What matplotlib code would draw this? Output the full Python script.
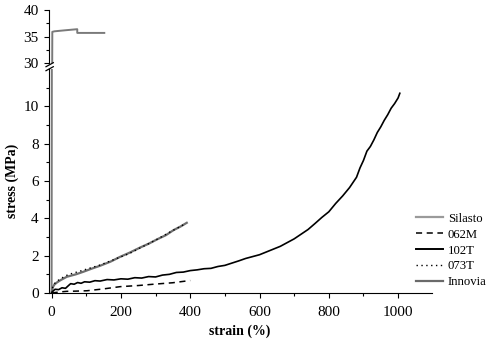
import matplotlib
matplotlib.use("Agg")
import matplotlib.pyplot as plt
from matplotlib.lines import Line2D

plt.rcParams['font.family'] = ['Liberation Serif', 'DejaVu Serif']

# strain (%) / stress (MPa)
silasto_x = [0, 3, 8, 15, 25, 44, 70, 92, 115, 140, 170, 198, 225, 256, 280, 304, 330, 352, 372, 390]
silasto_y = [0, 0.3, 0.45, 0.56, 0.68, 0.87, 1.0, 1.14, 1.3, 1.46, 1.68, 1.94, 2.16, 2.44, 2.64, 2.87, 3.1, 3.37, 3.56, 3.76]

m062_x = [0, 20, 44, 70, 102, 150, 198, 250, 294, 350, 400]
m062_y = [0, 0.05, 0.09, 0.1, 0.12, 0.22, 0.34, 0.4, 0.47, 0.55, 0.67]

t102_x = [0, 5, 10, 20, 30, 40, 50, 55, 65, 75, 85, 95, 110, 125, 140, 160, 180, 200,
          220, 240, 260, 280, 300, 320, 340, 360, 380, 400, 420, 440, 460, 480, 500,
          520, 540, 560, 580, 600, 620, 640, 660, 680, 700, 720, 740, 760, 780, 800,
          820, 840, 860, 880, 890, 900, 910, 920, 930, 940, 950, 960, 970, 980, 990,
          1000, 1005]
t102_y = [0, 0.12, 0.2, 0.18, 0.28, 0.25, 0.42, 0.5, 0.47, 0.56, 0.52, 0.6, 0.58, 0.66,
          0.64, 0.72, 0.7, 0.76, 0.74, 0.82, 0.8, 0.88, 0.86, 0.96, 1.0, 1.1, 1.12, 1.2,
          1.24, 1.3, 1.32, 1.42, 1.48, 1.6, 1.72, 1.85, 1.95, 2.05, 2.2, 2.35, 2.5, 2.7,
          2.9, 3.15, 3.4, 3.72, 4.05, 4.35, 4.8, 5.2, 5.65, 6.2, 6.7, 7.1, 7.6, 7.85,
          8.2, 8.6, 8.9, 9.25, 9.55, 9.9, 10.15, 10.45, 10.7]

t073_x = [0, 3, 8, 15, 25, 44, 54, 80, 110, 140, 188, 225, 256, 300, 340, 385]
t073_y = [0, 0.3, 0.5, 0.62, 0.76, 0.95, 1.02, 1.16, 1.33, 1.5, 1.85, 2.12, 2.42, 2.83, 3.25, 3.7]

innovia_x = [0, 2, 8, 40, 74, 74, 152]
innovia_y = [0, 35.9, 36.0, 36.2, 36.4, 35.7, 35.7]

W, H = 488, 344
fig = plt.figure(figsize=(W / 100, H / 100), dpi=100)
left, right = 48.5 / W, 431.7 / W
ax = fig.add_axes([left, 1 - 293 / H, right - left, (293 - 69) / H])
ax_top = fig.add_axes([left, 1 - 63.3 / H, right - left, (63.3 - 10) / H])

for a in (ax, ax_top):
    a.plot(innovia_x, innovia_y, color='#7a7a7a', lw=1.4, label='Innovia')
    a.plot(silasto_x, silasto_y, color='#6e6e6e', lw=1.6)
    a.plot(t073_x, t073_y, color='black', lw=1.0, ls=(0, (1, 2.5)))
    a.plot(m062_x, m062_y, color='black', lw=1.1, ls=(0, (4, 3)))
    a.plot(t102_x, t102_y, color='black', lw=1.2)
    a.set_xlim(-9, 1097)
    for s in ('top', 'right'):
        a.spines[s].set_visible(False)
    a.tick_params(direction='out', length=3.5, width=0.8, labelsize=11)
    a.tick_params(which='minor', direction='out', length=2, width=0.8)

ax.tick_params(axis='x', pad=5.5)
ax.set_ylim(0, 12)
ax.set_yticks([0, 2, 4, 6, 8, 10])
ax.set_yticks([1, 3, 5, 7, 9, 11], minor=True)
ax.set_xticks([0, 200, 400, 600, 800, 1000])
ax.set_xticks([100, 300, 500, 700, 900], minor=True)
ax.set_xlabel('strain (%)', fontweight='bold', fontsize=10, va='top')
ax.set_ylabel('stress (MPa)', fontweight='bold', fontsize=10)
ax.xaxis.set_label_coords(0.5, -0.14)
ax.yaxis.set_label_coords(-0.077, 0.5)

ax_top.set_ylim(30, 40)
ax_top.set_yticks([30, 35, 40])
ax_top.set_yticks([32.5, 37.5], minor=True)
ax_top.spines['bottom'].set_visible(False)
ax_top.set_xticks([])
ax_top.set_xticks([], minor=True)

# axis break marks
for y0 in (70.7, 66.7):
    fig.add_artist(Line2D([46 / W, 53.3 / W], [1 - y0 / H, 1 - (y0 - 4) / H],
                          color='black', lw=0.9))

handles = [Line2D([], [], color='#9a9a9a', lw=1.6),
           Line2D([], [], color='black', lw=1.1, ls=(0, (4, 3))),
           Line2D([], [], color='black', lw=1.4),
           Line2D([], [], color='black', lw=1.0, ls=(0, (1, 2.5))),
           Line2D([], [], color='#6a6a6a', lw=1.6)]
labels = ['Silasto', '062M', '102T', '073T', 'Innovia']
fig.legend(handles, labels, loc='upper left', bbox_to_anchor=(407 / W, 1 - 204 / H),
           frameon=False, fontsize=9.2, handlelength=2.1, handletextpad=0.4,
           labelspacing=0.3, borderpad=0.2)

fig.savefig('out.png', dpi=100)
